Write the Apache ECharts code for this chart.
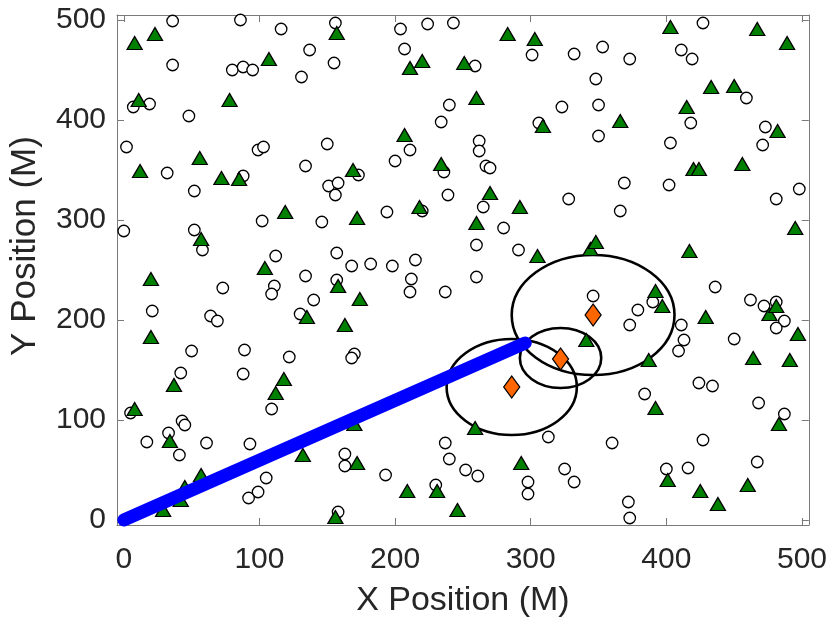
<!DOCTYPE html>
<html>
<head>
<meta charset="utf-8">
<script src="https://cdn.jsdelivr.net/npm/echarts@6/dist/echarts.min.js"></script>
<style>html,body{margin:0;padding:0;background:#fff;}#c{width:830px;height:623px;}</style>
</head>
<body>
<div id="c"></div>
<script>
// Tick values for both axes
const tickValues = [0, 100, 200, 300, 400, 500];

// Open circles
const circlePts = [
  [36,499],[86,500],[116,491],[156,497],[137,470],[36,455],[80,450],[88,453],[95,450],[131,443],[155,457],
  [7,413],[19,416],[48,404],[2,373],[99,370],[103,373],[150,376],[32,347],[134,354],[88,344],[52,329],
  [151,334],[158,337],[156,325],[0,289],[52,290],[58,270],[102,299],[146,298],[112,264],[157,267],
  [204,491],[224,496],[243,497],[207,471],[259,454],[301,465],[332,466],[240,415],[234,398],[323,413],
  [306,397],[262,379],[262,369],[211,370],[200,359],[267,354],[270,352],[173,345],[236,348],[239,325],
  [194,308],[220,309],[265,313],[328,321],[280,292],[260,275],[291,270],[168,254],[182,256],[198,254],[215,260],
  [427,497],[353,473],[373,461],[411,470],[419,461],[348,441],[459,422],[350,415],[418,397],[350,384],
  [403,377],[473,393],[471,375],[369,337],[402,335],[366,309],[481,321],[498,331],
  [134,244],[111,234],[109,226],[73,232],[157,240],[140,220],[21,209],[64,204],[69,199],[130,206],
  [50,169],[89,170],[122,163],[42,147],[88,146],[5,107],[109,111],[43,99],[45,95],[33,87],[17,78],
  [41,65],[61,77],[93,76],[105,42],[99,28],[92,22],[163,66],[163,54],[158,8],
  [212,241],[211,228],[237,228],[260,243],[170,166],[168,162],[237,77],[240,61],[252,50],[261,44],
  [193,45],[230,35],[313,83],[298,38],[298,26],[325,51],[332,38],
  [346,224],[379,210],[373,195],[390,218],[411,195],[413,180],[409,169],[436,233],[462,220],[472,214],
  [481,218],[487,199],[481,192],[450,181],[424,137],[434,134],[384,126],[468,117],[487,106],[360,77],
  [427,80],[467,58],[400,51],[416,52],[372,18],[373,2]
];

// Green triangles
const trianglePts = [
  [8,477],[23,486],[157,487],[107,461],[11,420],[78,420],[56,362],[12,349],[72,342],[85,341],[119,308],[57,281],[104,252],
  [283,486],[303,481],[211,452],[220,459],[251,457],[260,422],[309,394],[207,385],[169,350],[234,356],[270,327],
  [218,313],[292,313],[172,302],[260,297],[305,264],
  [403,493],[467,491],[489,477],[433,433],[450,434],[415,413],[366,399],[482,389],[420,351],[424,351],[456,356],
  [495,292],[344,271],[348,278],[417,269],
  [20,241],[158,234],[135,203],[20,183],[37,135],[118,141],[112,127],[8,111],[34,79],[132,65],[57,45],[45,33],[42,20],[29,10],
  [174,221],[163,195],[170,96],[259,92],[172,57],[293,57],[209,29],[231,29],[246,10],[156,3],
  [392,229],[397,214],[429,203],[476,206],[481,214],[497,186],[341,180],[387,160],[464,162],[491,160],
  [392,112],[483,96],[401,40],[425,29],[438,16],[460,35]
];

// Orange diamonds
const diamondPts = [[286,133],[322,161],[346,205]];

// Range circles: centre x, centre y, radius (data units)
const rangeCircles = [[286,133,48],[322,162,30],[346,205,60]];

// Blue path
const pathPts = [[0,0],[296,177]];

const FONT = 'Liberation Sans, Arial, Helvetica, sans-serif';
const AX = '#7a7a7a';
const TXT = '#262626';

function axisBase(pos, showLabel) {
  return {
    type: 'value', min: -5, max: 505, position: pos,
    axisLine: { show: true, onZero: false, lineStyle: { color: AX, width: 1 } },
    axisTick: { show: true, inside: true, length: 7, customValues: tickValues, lineStyle: { color: AX, width: 1 } },
    axisLabel: { show: showLabel, customValues: tickValues, fontSize: 30, color: TXT, fontFamily: FONT },
    splitLine: { show: false }
  };
}

const xMain = axisBase('bottom', true);
xMain.axisLabel.margin = 20;
xMain.name = 'X Position (M)';
xMain.nameLocation = 'middle';
xMain.nameGap = 59;
xMain.nameTextStyle = { fontSize: 34, color: TXT, fontFamily: FONT };
const xTop = axisBase('top', false);

const yMain = axisBase('left', true);
yMain.axisLabel.margin = 11;
yMain.name = 'Y Position (M)';
yMain.nameLocation = 'middle';
yMain.nameGap = 74;
yMain.nameTextStyle = { fontSize: 35, color: TXT, fontFamily: FONT, padding: [0, 0, 0, 48] };
const yRight = axisBase('right', false);

const chart = echarts.init(document.getElementById('c'), null, { renderer: 'canvas' });
chart.setOption({
  animation: false,
  backgroundColor: '#fff',
  grid: { left: 114, right: 19, top: 15, bottom: 97, containLabel: false },
  xAxis: [xMain, xTop],
  yAxis: [yMain, yRight],
  series: [
    {
      type: 'scatter', data: circlePts, symbol: 'circle', symbolSize: 11.5, silent: true,
      itemStyle: { color: '#ffffff', borderColor: '#000000', borderWidth: 1.3, opacity: 1 }
    },
    {
      type: 'scatter', data: trianglePts, symbol: 'triangle', symbolSize: [15, 13], silent: true,
      itemStyle: { color: '#008000', borderColor: '#000000', borderWidth: 1.3, opacity: 1 }
    },
    {
      type: 'scatter', data: diamondPts, symbol: 'diamond', symbolSize: [16, 22], silent: true,
      itemStyle: { color: '#ff6600', borderColor: '#000000', borderWidth: 1.3, opacity: 1 }
    },
    {
      type: 'custom', data: rangeCircles, silent: true, encode: { x: 0, y: 1 },
      renderItem: function (params, api) {
        const c = api.coord([api.value(0), api.value(1)]);
        const s = api.size([api.value(2), api.value(2)]);
        return {
          type: 'ellipse',
          shape: { cx: c[0], cy: c[1], rx: s[0], ry: s[1] },
          style: { fill: null, stroke: '#000000', lineWidth: 2.6 }
        };
      }
    },
    {
      type: 'line', data: pathPts, symbol: 'none', silent: true,
      lineStyle: { color: '#0000ff', width: 13, cap: 'round' }
    }
  ]
});
</script>
</body>
</html>
